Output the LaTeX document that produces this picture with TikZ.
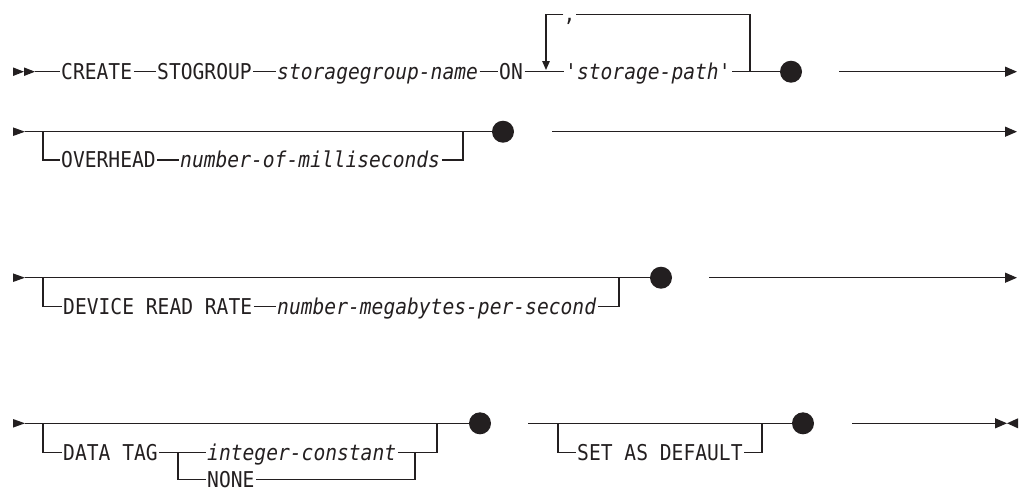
\documentclass[tikz,border=0pt]{standalone}
\usepackage{fontspec}
\newfontfamily\synfont[FakeStretch=0.9]{DejaVu Sans Mono}
\usetikzlibrary{arrows.meta}
\definecolor{ink}{RGB}{35,31,32}
\tikzset{
  kw/.style={font=\synfont\fontsize{21.8pt}{24pt}\selectfont, text=ink, text height=15.9pt, text depth=0pt, inner xsep=1.5pt, inner ysep=0pt, anchor=west},
  var/.style={kw, font=\synfont\fontsize{21.8pt}{24pt}\selectfont\itshape},
  ln/.style={draw=ink, line width=1.3pt},
  dotn/.style={circle, fill=ink, minimum size=22pt, inner sep=0pt},
  endarr/.style={ln, -{Triangle[length=12pt,width=10pt]}},
  downarr/.style={ln, -{Triangle[length=9pt,width=7.5pt]}}
}
\begin{document}
\begin{tikzpicture}[x=1pt,y=-1pt]
\useasboundingbox (0,0) rectangle (1022,491);

% ---------- row 1 ----------
\fill[ink] (13,67.4) -- (24,71.7) -- (13,76) -- cycle;
\fill[ink] (24,67.4) -- (35,71.7) -- (24,76) -- cycle;
\coordinate (r1a) at (35,71.7);
\node[kw] (create) at (59.5,71.7) {CREATE};
\node[kw] (stog) at (155.5,71.7) {STOGROUP};
\node[var] (sgn) at (275.5,71.7) {storagegroup-name};
\node[kw] (on) at (497.5,71.7) {ON};
\node[var] (sp) at (563.5,71.7) {'storage-path'};
\node[dotn] (d1) at (791,71.7) {};
\node[kw, anchor=center, inner xsep=0pt] (comma) at (569.5,13.5) {,};
\coordinate (lp1) at (750,71.7);
\coordinate (lpTR) at (750,14.7);
\coordinate (lpTL) at (546,14.7);
\coordinate (lpArr) at (546,70);
\coordinate (r1e0) at (839,71.7);
\coordinate (r1e) at (1017,71.7);
\draw[ln] (r1a) -- (create);
\draw[ln] (create) -- (stog);
\draw[ln] (stog) -- (sgn);
\draw[ln] (sgn) -- (on);
\draw[ln] (on) -- (sp);
\draw[ln] (sp) -- (d1);
\draw[ln] (lp1) -- (lpTR) -- (lpTR -| comma.east);
\draw[downarr] (lpTL -| comma.west) -- (lpTL) -- (lpArr);
\draw[endarr] (r1e0) -- (r1e);

% ---------- row 2 ----------
\fill[ink] (13,127.4) -- (25,131.7) -- (13,136) -- cycle;
\coordinate (r2a) at (25,131.7);
\node[dotn] (d2) at (503,131.7) {};
\coordinate (b2l) at (43,131.7);
\coordinate (b2r) at (463,131.7);
\node[kw] (ovh) at (59.5,160) {OVERHEAD};
\node[var] (nom) at (178.5,160) {number-of-milliseconds};
\coordinate (r2e0) at (552,131.7);
\coordinate (r2e) at (1017,131.7);
\draw[ln] (r2a) -- (d2);
\draw[ln] (b2l) |- (ovh.west);
\draw[ln] (ovh) -- (nom);
\draw[ln] (nom.east) -| (b2r);
\draw[endarr] (r2e0) -- (r2e);

% ---------- row 3 ----------
\fill[ink] (13,273.4) -- (25,277.7) -- (13,282) -- cycle;
\coordinate (r3a) at (25,277.7);
\node[dotn] (d3) at (661,277.7) {};
\coordinate (b3l) at (43,277.7);
\coordinate (b3r) at (619,277.7);
\node[kw] (drr) at (61.5,306.7) {DEVICE READ RATE};
\node[var] (nmps) at (275.5,306.7) {number-megabytes-per-second};
\coordinate (r3e0) at (709,277.7);
\coordinate (r3e) at (1017,277.7);
\draw[ln] (r3a) -- (d3);
\draw[ln] (b3l) |- (drr.west);
\draw[ln] (drr) -- (nmps);
\draw[ln] (nmps.east) -| (b3r);
\draw[endarr] (r3e0) -- (r3e);

% ---------- row 4 ----------
\fill[ink] (13,419) -- (25,423.3) -- (13,427.6) -- cycle;
\coordinate (r4a) at (25,423.3);
\node[dotn] (d4a) at (480,423.3) {};
\coordinate (b4l) at (43,423.3);
\node[kw] (dtag) at (61.5,452.7) {DATA TAG};
\node[var] (ic) at (205.5,452.7) {integer-constant};
\node[kw] (none) at (205.5,479.5) {NONE};
\coordinate (b4m) at (178,452.7);
\coordinate (b4j) at (415,452.7);
\coordinate (b4k) at (437,452.7);
\coordinate (b4r) at (437,423.3);
\draw[ln] (r4a) -- (d4a);
\draw[ln] (b4l) |- (dtag.west);
\draw[ln] (dtag) -- (ic);
\draw[ln] (b4m) |- (none.west);
\draw[ln] (none.east) -| (b4j);
\draw[ln] (ic.east) -- (b4k) -- (b4r);

\coordinate (r4b) at (528,423.3);
\node[dotn] (d4b) at (803,423.3) {};
\coordinate (b5l) at (558,423.3);
\coordinate (b5r) at (762,423.3);
\node[kw] (sad) at (575.5,452.7) {SET AS DEFAULT};
\draw[ln] (r4b) -- (d4b);
\draw[ln] (b5l) |- (sad.west);
\draw[ln] (sad.east) -| (b5r);

\coordinate (r4e0) at (852,423.3);
\coordinate (r4e) at (1007,423.3);
\draw[endarr] (r4e0) -- (r4e);
\fill[ink] (1018,418.3) -- (1007,423.3) -- (1018,428.3) -- cycle;
\end{tikzpicture}
\end{document}
